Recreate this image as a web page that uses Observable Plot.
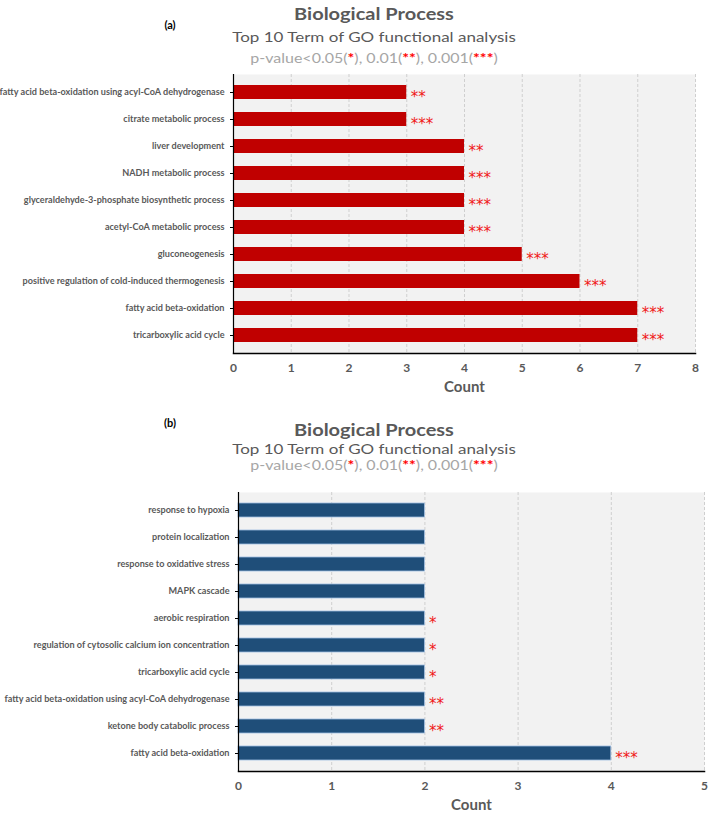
<!DOCTYPE html>
<html>
<head>
<meta charset="utf-8">
<script src="https://cdn.jsdelivr.net/npm/d3@7"></script>
<script src="https://cdn.jsdelivr.net/npm/@observablehq/plot@0.6"></script>
<style>
  body { margin: 0; background: #fff; font-family: Lato, "Open Sans", sans-serif; }
  #page { position: relative; width: 709px; height: 820px; overflow: hidden; }
  .t { position: absolute; white-space: nowrap; line-height: 1; }
  .title { font-size: 20px; font-weight: 700; color: #595959; transform: translate(-50%, -50%) scale(1, 0.84); }
  .sub { font-size: 17px; color: #595959; transform: translate(-50%, -50%) scale(1, 0.84); }
  .pv { font-size: 16px; color: #a6a6a6; transform: translate(-50%, -50%) scale(1, 0.8); }
  .pv b { color: #ff0000; font-weight: 700; }
  .tag { font-size: 11px; font-weight: 700; color: #000; transform: translate(-50%, -50%); }
  .chart { position: absolute; left: 0; }
</style>
</head>
<body>
<div id="page">
  <div id="chartA" class="chart" style="top:0px"></div>
  <div id="chartB" class="chart" style="top:410px"></div>

  <div class="t tag" style="left:170px;top:24px">(a)</div>
  <div class="t title" style="left:374px;top:12.5px">Biological Process</div>
  <div class="t sub" style="left:374px;top:36.5px">Top 10 Term of GO functional analysis</div>
  <div class="t pv" style="left:374px;top:57.5px">p-value&lt;0.05(<b>*</b>), 0.01(<b>**</b>), 0.001(<b>***</b>)</div>

  <div class="t tag" style="left:170px;top:422px">(b)</div>
  <div class="t title" style="left:374px;top:429px">Biological Process</div>
  <div class="t sub" style="left:374px;top:449px">Top 10 Term of GO functional analysis</div>
  <div class="t pv" style="left:374px;top:465px">p-value&lt;0.05(<b>*</b>), 0.01(<b>**</b>), 0.001(<b>***</b>)</div>
</div>
<script>
// Panel (a): GO biological process terms, gene counts and significance marks
const termsA = [
  "fatty acid beta-oxidation using acyl-CoA dehydrogenase",
  "citrate metabolic process",
  "liver development",
  "NADH metabolic process",
  "glyceraldehyde-3-phosphate biosynthetic process",
  "acetyl-CoA metabolic process",
  "gluconeogenesis",
  "positive regulation of cold-induced thermogenesis",
  "fatty acid beta-oxidation",
  "tricarboxylic acid cycle"
];
const countsA = [3, 3, 4, 4, 4, 4, 5, 6, 7, 7];
const sigA = ["**", "***", "**", "***", "***", "***", "***", "***", "***", "***"];
const ticksA = [0, 1, 2, 3, 4, 5, 6, 7, 8];

// Panel (b)
const termsB = [
  "response to hypoxia",
  "protein localization",
  "response to oxidative stress",
  "MAPK cascade",
  "aerobic respiration",
  "regulation of cytosolic calcium ion concentration",
  "tricarboxylic acid cycle",
  "fatty acid beta-oxidation using acyl-CoA dehydrogenase",
  "ketone body catabolic process",
  "fatty acid beta-oxidation"
];
const countsB = [2, 2, 2, 2, 2, 2, 2, 2, 2, 4];
const sigB = ["", "", "", "", "*", "*", "*", "**", "**", "***"];
const ticksB = [0, 1, 2, 3, 4, 5];

function goBar({terms, counts, sig, ticks, fill, barStroke, height, margins}) {
  const rows = terms.map((term, i) => ({term, count: counts[i], sig: sig[i]}));
  const xMax = ticks[ticks.length - 1];
  return Plot.plot({
    width: 709,
    height,
    ...margins,
    style: {fontFamily: "Lato, 'Open Sans', sans-serif", background: "transparent", overflow: "visible"},
    x: {domain: [0, xMax], label: null},
    y: {domain: terms, paddingInner: 0.5, paddingOuter: 0.25, label: null},
    marks: [
      Plot.frame({fill: "#f2f2f2", stroke: null}),
      Plot.gridX(ticks.slice(1), {stroke: "#cfcfcf", strokeOpacity: 1, strokeDasharray: "3,2"}),
      Plot.barX(rows, {x: "count", y: "term", fill, stroke: barStroke, strokeWidth: barStroke ? 0.8 : 0}),
      // significance stars right of each bar
      Plot.text(rows, {x: "count", y: "term", text: "sig", textAnchor: "start", dx: 4, dy: 5,
        fill: "#f01818", fontSize: 15, fontFamily: "DejaVu Sans"}),
      Plot.ruleX([0], {stroke: "#000", strokeWidth: 1.2}),
      Plot.frame({anchor: "bottom", stroke: "#000", strokeWidth: 1.5}),
      Plot.axisX({ticks, tickSize: 0, tickPadding: 10, fontSize: 12, fontWeight: "bold",
        fill: "#595959", label: null, tickFormat: d3.format("d")}),
      Plot.axisY({tickSize: 3, tickPadding: 6, fontSize: 9.1, fontWeight: "bold",
        fill: "#595959", stroke: "#000", label: null}),
      Plot.text(["Count"], {frameAnchor: "bottom", dy: 38, fontSize: 15, fontWeight: "bold",
        fill: "#595959"})
    ]
  });
}

document.getElementById("chartA").append(goBar({
  terms: termsA, counts: countsA, sig: sigA, ticks: ticksA,
  fill: "#c00000", barStroke: null, height: 405,
  margins: {marginTop: 74, marginBottom: 52, marginLeft: 233, marginRight: 14}
}));

document.getElementById("chartB").append(goBar({
  terms: termsB, counts: countsB, sig: sigB, ticks: ticksB,
  fill: "#1f4e79", barStroke: "#9fbde0", height: 410,
  margins: {marginTop: 82, marginBottom: 49, marginLeft: 238, marginRight: 5}
}));
</script>
</body>
</html>
